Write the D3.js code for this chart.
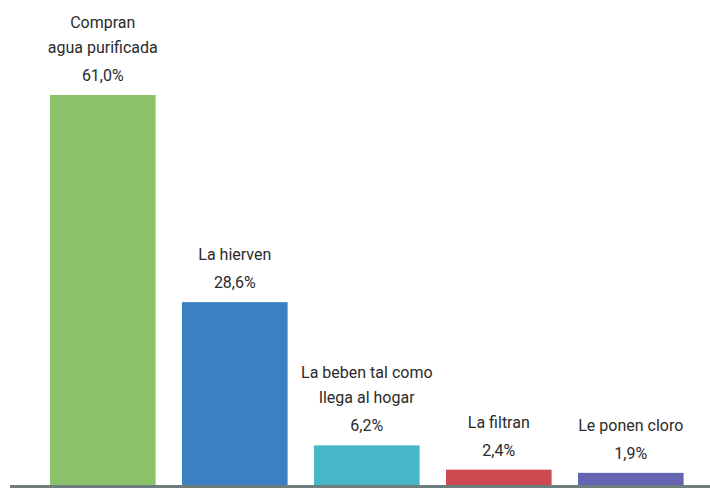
<!DOCTYPE html>
<html>
<head>
<meta charset="utf-8">
<script src="https://cdn.jsdelivr.net/npm/d3@7"></script>
<style>
  body { margin: 0; background: #fff; }
  text { font-family: "Liberation Sans Narrow", "Roboto", sans-serif; fill: #2b2b2b; }
</style>
</head>
<body>
<div id="chart-area"></div>
<script>
var width = 710,
    height = 489;

// data
var categories = [
  ["Compran", "agua purificada"],
  ["La hierven"],
  ["La beben tal como", "llega al hogar"],
  ["La filtran"],
  ["Le ponen cloro"]
];
var values = [61.0, 28.6, 6.2, 2.4, 1.9];
var valueLabels = ["61,0%", "28,6%", "6,2%", "2,4%", "1,9%"];
var colors = ["#8cc269", "#3b80c2", "#48b6c9", "#cf4a50", "#6464b1"];

var svg = d3.select("#chart-area").append("svg")
    .attr("width", width)
    .attr("height", height);

var x = d3.scaleBand()
    .domain(d3.range(values.length))
    .range([23.6, 710])
    .paddingInner(0.2)
    .paddingOuter(0.2);

var y = d3.scaleLinear()
    .domain([0, 61])
    .range([485, 95]);

// bars
svg.selectAll(".bar")
    .data(values)
    .enter()
    .append("rect")
    .attr("class", "bar")
    .attr("x", (d, i) => x(i))
    .attr("y", d => y(d))
    .attr("width", x.bandwidth())
    .attr("height", d => y(0) - y(d))
    .style("fill", (d, i) => colors[i]);

// percentage labels
svg.selectAll(".pct")
    .data(values)
    .enter()
    .append("text")
    .attr("class", "pct")
    .attr("x", (d, i) => x(i) + x.bandwidth() / 2)
    .attr("y", d => y(d) - 14)
    .attr("text-anchor", "middle")
    .style("font-size", "16px")
    .text((d, i) => valueLabels[i]);

// category labels (one or two lines)
var cat = svg.selectAll(".cat")
    .data(values)
    .enter()
    .append("text")
    .attr("class", "cat")
    .attr("text-anchor", "middle")
    .style("font-size", "16px")
    .attr("transform", (d, i) => "translate(" + (x(i) + x.bandwidth() / 2) + "," + (y(d) - 42) + ")");

cat.selectAll("tspan")
    .data((d, i) => categories[i].map((t, j, a) => ({ t: t, k: a.length - 1 - j })))
    .enter()
    .append("tspan")
    .attr("x", 0)
    .attr("y", d => -d.k * 25)
    .text(d => d.t);

// baseline
svg.append("line")
    .attr("x1", 10)
    .attr("x2", width)
    .attr("y1", y(0) + 1.5)
    .attr("y2", y(0) + 1.5)
    .style("stroke", "#6e7e7c")
    .style("stroke-width", 3);
</script>
</body>
</html>
